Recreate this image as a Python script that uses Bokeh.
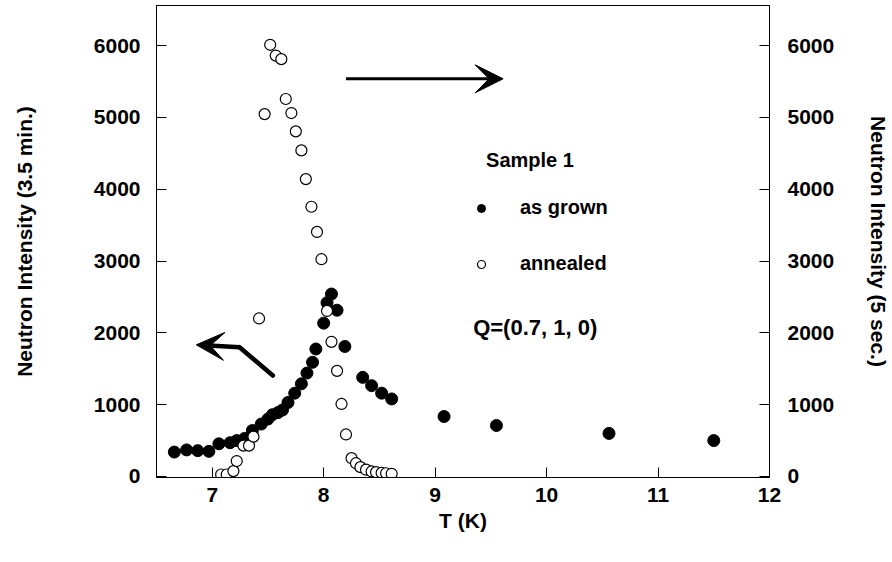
from bokeh.plotting import figure
from bokeh.models import (Range1d, LinearAxis, Arrow, VeeHead, Label, Legend,
                          LegendItem, FixedTicker)
from bokeh.embed import file_html
from bokeh.resources import INLINE

# ---- data ----
T_grown = [6.66, 6.77, 6.87, 6.97, 7.06, 7.16, 7.22, 7.29, 7.36, 7.44, 7.50,
           7.54, 7.59, 7.63, 7.68, 7.74, 7.80, 7.85, 7.90, 7.93, 8.00, 8.03,
           8.07, 8.12, 8.19, 8.35, 8.43, 8.52, 8.61, 9.08, 9.55, 10.56, 11.50]
I_grown = [340, 370, 360, 350, 455, 470, 500, 530, 640, 730, 800,
           860, 890, 925, 1030, 1160, 1290, 1440, 1590, 1775, 2135, 2420,
           2540, 2315, 1810, 1380, 1265, 1160, 1080, 835, 710, 600, 500]

T_annealed = [7.08, 7.13, 7.19, 7.22, 7.28, 7.33, 7.37, 7.42, 7.47, 7.52,
              7.57, 7.62, 7.66, 7.71, 7.75, 7.80, 7.84, 7.89, 7.94, 7.98,
              8.03, 8.07, 8.12, 8.16, 8.20, 8.25, 8.29, 8.33, 8.38, 8.43,
              8.47, 8.52, 8.56, 8.61]
I_annealed = [28, 28, 75, 215, 430, 430, 555, 2200, 5045, 6010,
              5860, 5810, 5255, 5060, 4805, 4540, 4140, 3755, 3405, 3025,
              2305, 1875, 1470, 1010, 585, 255, 185, 130, 95, 70,
              60, 50, 45, 37]

x_ticks = [7, 8, 9, 10, 11, 12]
y_ticks = [0, 1000, 2000, 3000, 4000, 5000, 6000]

# annotation geometry (data coordinates)
arrow_right_x = [8.20, 9.61]
arrow_right_y = [5536, 5536]
arrow_left_x = [7.544, 7.245, 6.857]
arrow_left_y = [1406, 1800, 1833]

FONT = "Liberation Sans"

p = figure(frame_width=613, frame_height=472,
           x_range=Range1d(6.5, 12.0), y_range=Range1d(-14, 6557),
           output_backend="svg", toolbar_location=None,
           min_border_left=156, min_border_top=5, min_border_right=120,
           min_border_bottom=60,
           x_axis_label="T (K)", y_axis_label="Neutron Intensity (3.5 min.)")
p.extra_y_ranges = {"right": Range1d(-14, 6557)}
p.add_layout(LinearAxis(y_range_name="right",
                        axis_label="Neutron Intensity (5 sec.)"), "right")

p.background_fill_color = "white"
p.border_fill_color = "white"
p.outline_line_color = "black"
p.outline_line_width = 1
p.xgrid.visible = False
p.ygrid.visible = False

for ax in p.axis:
    ax.axis_line_color = "black"
    ax.major_tick_in = 10
    ax.major_tick_out = 0
    ax.minor_tick_line_color = None
    ax.major_tick_line_color = "black"
    ax.major_label_text_font = FONT
    ax.major_label_text_font_style = "bold"
    ax.major_label_text_font_size = "21px"
    ax.major_label_text_color = "black"
    ax.axis_label_text_font = FONT
    ax.axis_label_text_font_style = "bold"
    ax.axis_label_text_font_size = "21px"
    ax.axis_label_text_color = "black"

p.xaxis.ticker = FixedTicker(ticks=x_ticks)
p.xaxis.major_label_standoff = 10
p.xaxis.axis_label_standoff = 4
for ax in p.yaxis:
    ax.ticker = FixedTicker(ticks=y_ticks)
p.yaxis[0].major_label_standoff = 16
p.yaxis[0].axis_label_standoff = 55
p.yaxis[1].major_label_standoff = 18
p.yaxis[1].axis_label_standoff = 30

r_grown = p.scatter(T_grown, I_grown, size=12, marker="circle",
                    fill_color="black", line_color="black")
r_ann = p.scatter(T_annealed, I_annealed, size=11, marker="circle",
                  fill_color="white", line_color="black", line_width=1.2,
                  y_range_name="right")

# arrows
p.add_layout(Arrow(x_start=arrow_right_x[0], y_start=arrow_right_y[0],
                   x_end=arrow_right_x[1], y_end=arrow_right_y[1],
                   line_width=3, line_color="black",
                   end=VeeHead(size=28, fill_color="black", line_color="black")))
p.line(arrow_left_x[:2], arrow_left_y[:2], line_width=4.5, line_color="black",
       line_cap="round")
p.add_layout(Arrow(x_start=arrow_left_x[1], y_start=arrow_left_y[1],
                   x_end=arrow_left_x[2], y_end=arrow_left_y[2],
                   line_width=4.5, line_color="black",
                   end=VeeHead(size=28, fill_color="black", line_color="black")))

# texts
p.add_layout(Label(x=9.457, y=4413, text="Sample 1", text_font=FONT,
                   text_font_style="bold", text_font_size="20px",
                   text_color="black",
                   text_baseline="middle", text_align="left"))
p.add_layout(Label(x=9.341, y=2074, text="Q=(0.7, 1, 0)", text_font=FONT,
                   text_font_style="bold", text_font_size="22px",
                   text_color="black",
                   text_baseline="middle", text_align="left"))

legend = Legend(items=[LegendItem(label="as grown", renderers=[r_grown]),
                       LegendItem(label="annealed", renderers=[r_ann])],
                location=(315, 202), orientation="vertical",
                border_line_color=None, background_fill_alpha=0,
                padding=0, margin=0, spacing=33,
                glyph_width=20, glyph_height=22, label_height=22,
                label_standoff=29,
                label_text_font=FONT, label_text_font_style="bold",
                label_text_font_size="20px", label_text_color="black")
p.add_layout(legend, "center")

open("out.html", "w").write(file_html(p, INLINE))
